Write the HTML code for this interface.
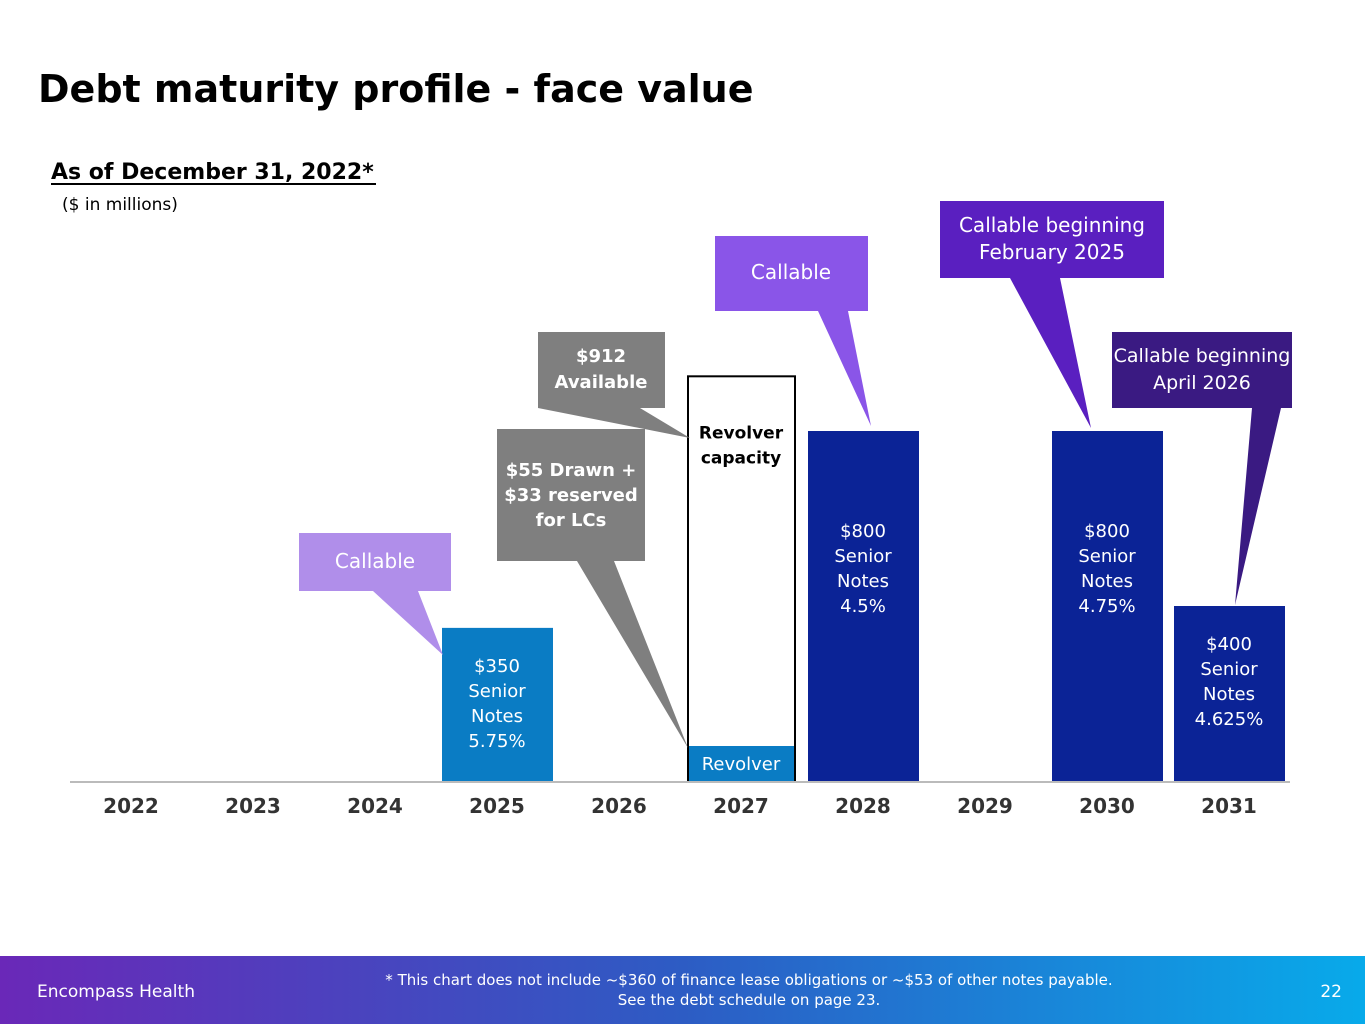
<!DOCTYPE html>
<html><head><meta charset="utf-8"><style>
body{margin:0;width:1365px;height:1024px;overflow:hidden;background:#fff;font-family:"DejaVu Sans","Liberation Sans",sans-serif;}
</style></head><body>
<svg width="1365" height="1024" xmlns="http://www.w3.org/2000/svg">
<defs><linearGradient id="fg" x1="0" x2="1" y1="0" y2="0"><stop offset="0" stop-color="#6a28b8"/><stop offset="0.5" stop-color="#2d5cc4"/><stop offset="1" stop-color="#08aaea"/></linearGradient></defs>
<text x="38" y="102" font-size="38" font-weight="bold" fill="#000">Debt maturity profile - face value</text>
<text x="51" y="179" font-size="22" font-weight="bold" fill="#000">As of December 31, 2022*</text>
<line x1="51" y1="184" x2="376" y2="184" stroke="#000" stroke-width="2"/>
<text x="62" y="210" font-size="17" fill="#000">($ in millions)</text>
<g id="chart"></g>
<g id="callouts">
<polygon points="299,533 451,533 451,591 418,591 443,655 373,591 299,591" fill="#b08eea"/>
<text x="375" y="568" font-size="20" fill="#fff" text-anchor="middle">Callable</text>
<polygon points="497,429 645,429 645,561 614,561 688,748 577,561 497,561" fill="#7f7f7f"/>
<g font-size="18" font-weight="bold" fill="#fff" text-anchor="middle"><text x="571" y="476">$55 Drawn +</text><text x="571" y="501">$33 reserved</text><text x="571" y="526">for LCs</text></g>
<polygon points="538,332 665,332 665,408 640,408 690,438 538,408" fill="#7f7f7f"/>
<g font-size="18" font-weight="bold" fill="#fff" text-anchor="middle"><text x="601" y="362">$912</text><text x="601" y="388">Available</text></g>
<polygon points="715,236 868,236 868,311 848,311 871,426 818,311 715,311" fill="#8a55e8"/>
<text x="791" y="279" font-size="20" fill="#fff" text-anchor="middle">Callable</text>
<polygon points="940,201 1164,201 1164,278 1060,278 1091,428 1010,278 940,278" fill="#5a1fc0"/>
<g font-size="20" fill="#fff" text-anchor="middle"><text x="1052" y="232">Callable beginning</text><text x="1052" y="259">February 2025</text></g>
<polygon points="1112,332 1292,332 1292,408 1281,408 1235,605 1252,408 1112,408" fill="#3a1a82"/>
<g font-size="19" fill="#fff" text-anchor="middle"><text x="1202" y="362">Callable beginning</text><text x="1202" y="389">April 2026</text></g>
</g>
<rect x="0" y="956" width="1365" height="68" fill="url(#fg)"/>
<text x="37" y="997" font-size="17" fill="#fff">Encompass Health</text>
<g font-size="15" fill="#fff" text-anchor="middle"><text x="749" y="985">* This chart does not include ~$360 of finance lease obligations or ~$53 of other notes payable.</text><text x="749" y="1005">See the debt schedule on page 23.</text></g>
<text x="1342" y="997" font-size="17" fill="#fff" text-anchor="end">22</text>
</svg>
<script>
const years=["2022","2023","2024","2025","2026","2027","2028","2029","2030","2031"];
const noteValues=[0,0,0,350,0,0,800,0,800,400];
const noteLabels=[[],[],[],["$350","Senior","Notes","5.75%"],[],[],["$800","Senior","Notes","4.5%"],[],["$800","Senior","Notes","4.75%"],["$400","Senior","Notes","4.625%"]];
const revolverDrawn=[0,0,0,0,0,80,0,0,0,0];
const revolverCapacity=[0,0,0,0,0,925,0,0,0,0];
const NS="http://www.w3.org/2000/svg";
const g=document.getElementById('chart');
const x0=70,step=122,bw=111,base=781,k=350/800;
const cx=i=>x0+step*i+step/2;
const y=v=>base-v*k;
function mk(t,a){const e=document.createElementNS(NS,t);for(const n in a)e.setAttribute(n,a[n]);g.appendChild(e);return e;}
years.forEach((yr,i)=>{
  if(revolverCapacity[i]>0){
    const c=mk('rect',{x:cx(i)-53,y:y(revolverCapacity[i]),width:107,height:revolverCapacity[i]*k,fill:'#fff',stroke:'#000','stroke-width':2});
    
    
    const d=mk('rect',{x:cx(i)-52,y:y(revolverDrawn[i]),width:105,height:revolverDrawn[i]*k,fill:'#0a7cc4'});
    
    
    const t=mk('text',{x:cx(i),y:y(revolverDrawn[i])+24,'font-size':18,fill:'#fff','text-anchor':'middle'});t.textContent='Revolver';
    
    
    ['Revolver','capacity'].forEach((s,j)=>{const tt=mk('text',{x:cx(i),y:y(revolverCapacity[i])+62+j*25,'font-size':17,'font-weight':'bold',fill:'#000','text-anchor':'middle'});tt.textContent=s;
      
      });
  }
  if(noteValues[i]>0){
    const r=mk('rect',{x:cx(i)-55,y:y(noteValues[i]),width:bw,height:noteValues[i]*k,fill:i===3?'#0a7cc4':'#0b2396'});
    
    
    const top=y(noteValues[i])+(noteValues[i]>500?106:44);
    noteLabels[i].forEach((s,j)=>{const t=mk('text',{x:cx(i),y:top+j*25,'font-size':18,fill:'#fff','text-anchor':'middle'});t.textContent=s;
      
      });
  }
  const lb=mk('text',{x:cx(i),y:813,'font-size':20,'font-weight':'bold',fill:'#333','text-anchor':'middle'});lb.textContent=yr;
  
  
});
const ax=mk('line',{x1:x0,x2:x0+step*10,y1:base+1,y2:base+1,stroke:'#bbb','stroke-width':2});


</script>
</body></html>
